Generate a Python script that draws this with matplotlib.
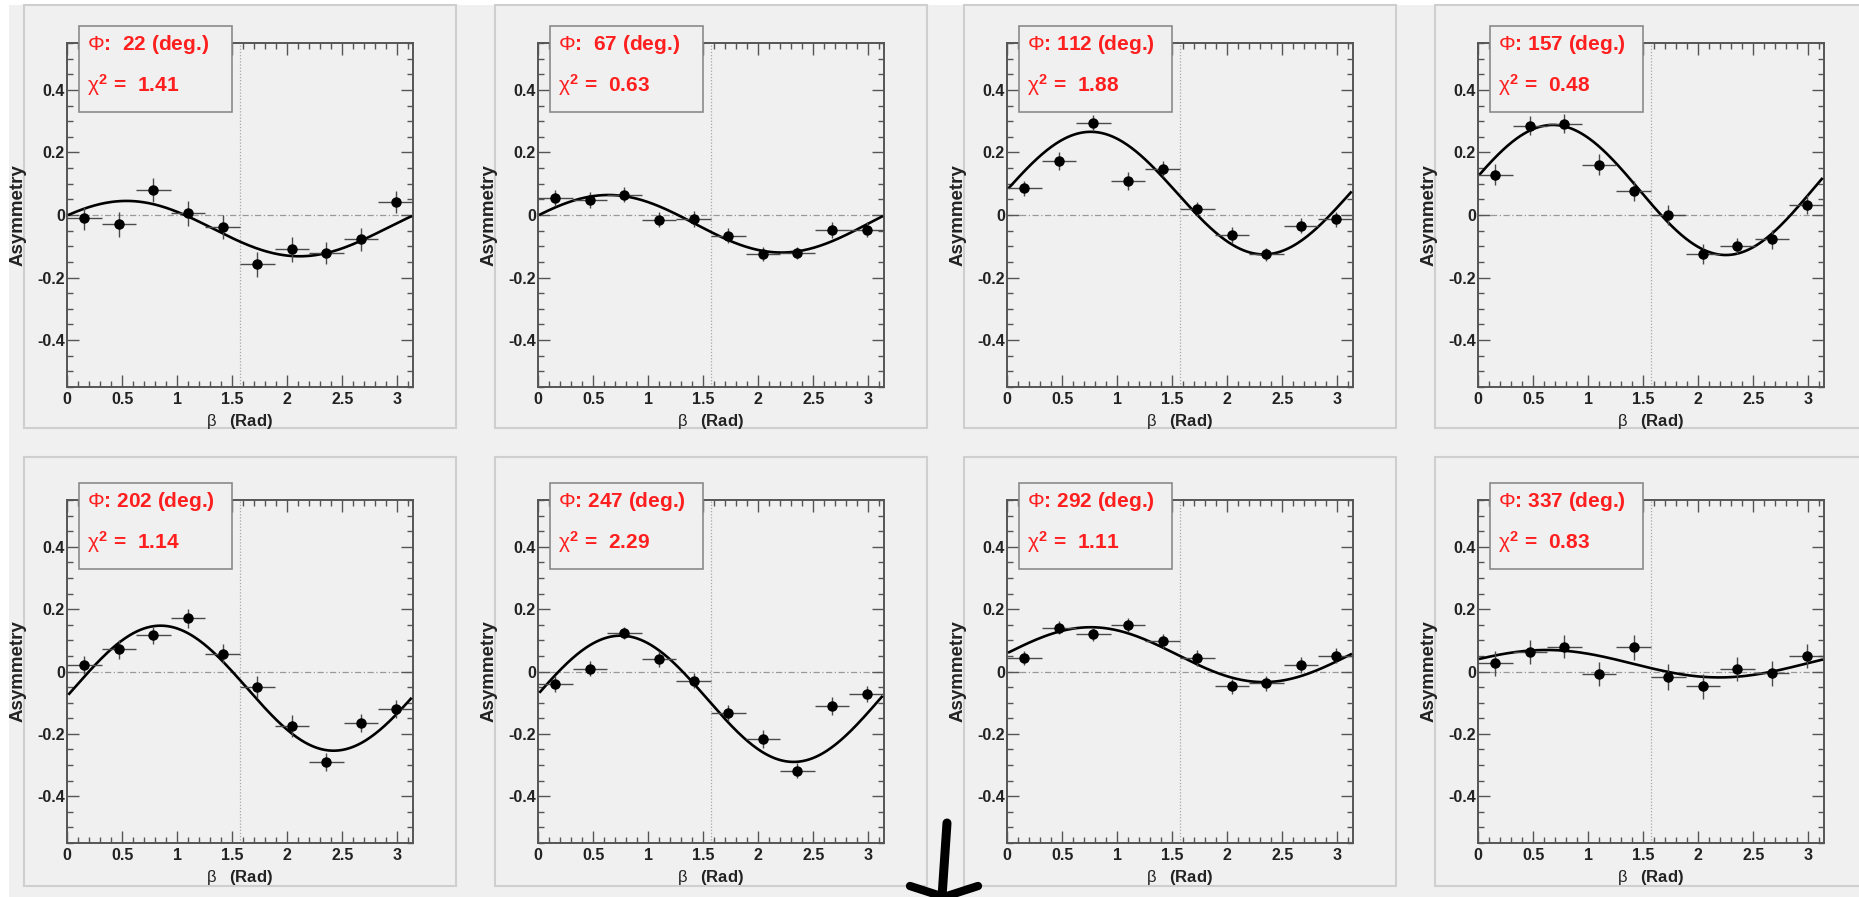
import numpy as np
import matplotlib.pyplot as plt
from matplotlib.patches import Rectangle
from matplotlib.lines import Line2D
from matplotlib.ticker import MultipleLocator, FuncFormatter

plt.rcParams['font.family'] = ['Liberation Sans', 'DejaVu Sans']
plt.rcParams['mathtext.fontset'] = 'custom'
plt.rcParams['mathtext.rm'] = 'Liberation Sans'
plt.rcParams['mathtext.it'] = 'Liberation Sans'
plt.rcParams['mathtext.bf'] = 'Liberation Sans:bold'
plt.rcParams['axes.unicode_minus'] = False

W, H = 1859, 897

# Data
phi_deg = [22, 67, 112, 157, 202, 247, 292, 337]
chi2 = ["1.41", "0.63", "1.88", "0.48", "1.14", "2.29", "1.11", "0.83"]

beta = [0.157, 0.471, 0.785, 1.100, 1.414, 1.728, 2.042, 2.356, 2.670, 2.985]
beta_err = 0.157

asym_022 = [-0.011, -0.029, 0.080, 0.006, -0.039, -0.158, -0.110, -0.121, -0.078, 0.042]
asym_067 = [0.054, 0.048, 0.065, -0.015, -0.013, -0.066, -0.124, -0.121, -0.048, -0.047]
asym_112 = [0.085, 0.172, 0.294, 0.108, 0.148, 0.019, -0.063, -0.126, -0.034, -0.013]
asym_157 = [0.129, 0.285, 0.292, 0.161, 0.076, -0.001, -0.125, -0.099, -0.078, 0.033]
asym_202 = [0.021, 0.071, 0.116, 0.171, 0.057, -0.051, -0.174, -0.290, -0.165, -0.121]
asym_247 = [-0.041, 0.009, 0.123, 0.041, -0.029, -0.133, -0.217, -0.318, -0.110, -0.073]
asym_292 = [0.043, 0.141, 0.119, 0.149, 0.098, 0.043, -0.048, -0.037, 0.021, 0.051]
asym_337 = [0.027, 0.062, 0.080, -0.007, 0.077, -0.018, -0.048, 0.009, -0.005, 0.050]

err_022 = [0.038, 0.040, 0.038, 0.040, 0.038, 0.040, 0.040, 0.036, 0.038, 0.035]
err_067 = [0.025, 0.026, 0.025, 0.024, 0.025, 0.025, 0.022, 0.020, 0.025, 0.024]
err_112 = [0.025, 0.028, 0.025, 0.028, 0.025, 0.022, 0.025, 0.020, 0.024, 0.024]
err_157 = [0.033, 0.030, 0.030, 0.033, 0.032, 0.032, 0.032, 0.025, 0.030, 0.030]
err_202 = [0.030, 0.030, 0.028, 0.030, 0.030, 0.035, 0.035, 0.030, 0.030, 0.028]
err_247 = [0.025, 0.025, 0.020, 0.025, 0.025, 0.025, 0.028, 0.025, 0.028, 0.025]
err_292 = [0.022, 0.022, 0.020, 0.022, 0.022, 0.025, 0.025, 0.024, 0.025, 0.025]
err_337 = [0.040, 0.038, 0.036, 0.038, 0.040, 0.042, 0.040, 0.038, 0.040, 0.038]

# fitted sinusoid: offset + amp * cos(2 (beta - peak))
fit_offset = [-0.0435, -0.028, 0.070, 0.080, -0.0535, -0.0875, 0.054, 0.025]
fit_amp = [0.0885, 0.092, 0.196, 0.208, 0.2005, 0.2025, 0.088, 0.044]
fit_peak = [0.54, 0.64, 0.76, 0.68, 0.85, 0.75, 0.76, 0.62]

asym_all = [asym_022, asym_067, asym_112, asym_157, asym_202, asym_247, asym_292, asym_337]
err_all = [err_022, err_067, err_112, err_157, err_202, err_247, err_292, err_337]

BG = '#f0f0f0'
FRAME = '#555555'
RED = '#ff1f1f'


def fig_rect(x0, y0, x1, y1):
    """ Pixel box (top-left origin) to figure fraction [left, bottom, width, height]. """
    return [x0 / W, 1 - y1 / H, (x1 - x0) / W, (y1 - y0) / H]


def fig_pt(x, y):
    return x / W, 1 - y / H


fig = plt.figure(figsize=(W / 100, H / 100), dpi=100)
fig.patch.set_facecolor(BG)

# white margins at top and left
for r in [fig_rect(0, 0, W, 5), fig_rect(0, 0, 9, H)]:
    fig.patches.append(Rectangle((r[0], r[1]), r[2], r[3], transform=fig.transFigure,
                                 facecolor='white', edgecolor='none', zorder=-2))

pad_left = [24, 495, 964, 1435]
pad_rows = [(5, 428), (457, 886)]
axes_rows = [(43, 387), (500, 843)]

for i in range(8):
    row, col = divmod(i, 4)
    px0 = pad_left[col]
    py0, py1 = pad_rows[row]
    r = fig_rect(px0, py0, px0 + 432, py1)
    fig.patches.append(Rectangle((r[0], r[1]), r[2], r[3], transform=fig.transFigure,
                                 facecolor=BG, edgecolor='#cfcfcf', lw=1.5, zorder=-1))

    ay0, ay1 = axes_rows[row]
    ax = fig.add_axes(fig_rect(px0 + 43, ay0, px0 + 389, ay1))
    ax.set_facecolor(BG)
    ax.set_xlim(0, np.pi)
    ax.set_ylim(-0.55, 0.55)

    ax.axhline(0, color='#999999', lw=0.9, ls=(0, (5, 2, 1, 2)), zorder=1)
    ax.axvline(np.pi / 2, color='#a8a8a8', lw=0.9, ls=(0, (1, 1.5)), zorder=1)

    bb = np.linspace(0.02, np.pi - 0.02, 300)
    ax.plot(bb, fit_offset[i] + fit_amp[i] * np.cos(2 * (bb - fit_peak[i])),
            color='black', lw=1.9, zorder=3)
    ax.errorbar(beta, asym_all[i], xerr=beta_err, yerr=err_all[i], fmt='o',
                color='black', ms=6.5, ecolor='#4a4a4a', elinewidth=1.0,
                capsize=0, zorder=4)

    ax.xaxis.set_major_locator(MultipleLocator(0.5))
    ax.xaxis.set_minor_locator(MultipleLocator(0.1))
    ax.yaxis.set_major_locator(MultipleLocator(0.2))
    ax.yaxis.set_minor_locator(MultipleLocator(0.05))
    fmt = FuncFormatter(lambda v, p: f"{v:g}" if abs(v) > 1e-9 else "0")
    ax.xaxis.set_major_formatter(fmt)
    ax.yaxis.set_major_formatter(fmt)
    ax.tick_params(which='both', direction='in', top=True, right=True,
                   color=FRAME, width=1.0)
    ax.tick_params(which='major', length=8.5)
    ax.tick_params(which='minor', length=4.3)
    ax.tick_params(axis='x', pad=3.5)
    ax.tick_params(axis='y', pad=1.5)
    for lab in ax.get_xticklabels() + ax.get_yticklabels():
        lab.set_fontsize(11.5)
        lab.set_fontweight('bold')
        lab.set_color('#222222')
    for sp in ax.spines.values():
        sp.set_color(FRAME)
        sp.set_linewidth(1.4)

    ax.set_xlabel(r"$\beta$   (Rad)", fontsize=12, fontweight='bold', color='#222222')
    ax.xaxis.set_label_coords(0.5, -0.072)
    ax.set_ylabel("Asymmetry", fontsize=13.5, fontweight='bold', color='#222222')
    ax.yaxis.set_label_coords(-0.118, 0.5)

    # fit info box
    ax.add_patch(Rectangle((0.035, 0.799), 0.442, 0.25, transform=ax.transAxes,
                           facecolor=BG, edgecolor='#8a8a8a', lw=1.2,
                           clip_on=False, zorder=5))
    phi_txt = f"{phi_deg[i]}" if phi_deg[i] >= 100 else f" {phi_deg[i]}"
    ax.text(0.058, 0.98, r"$\Phi$: " + phi_txt + " (deg.)", transform=ax.transAxes,
            color=RED, fontsize=15, fontweight='bold', va='baseline', zorder=6)
    ax.text(0.058, 0.858, r"$\chi^{\mathbf{2}}$ =  " + chi2[i], transform=ax.transAxes,
            color=RED, fontsize=15, fontweight='bold', va='baseline', zorder=6)

# hand-drawn arrow at the bottom
arrow_strokes = [((947, 823), (942, 897), 6.5),
                 ((910, 886), (944, 897), 6.0),
                 ((978, 886), (944, 897), 6.0)]
for (x0, y0), (x1, y1), lw in arrow_strokes:
    p0, p1 = fig_pt(x0, y0), fig_pt(x1, y1)
    fig.lines.append(Line2D([p0[0], p1[0]], [p0[1], p1[1]], transform=fig.transFigure,
                            color='black', lw=lw, solid_capstyle='round', zorder=10))

fig.savefig("out.png", dpi=100, facecolor=fig.get_facecolor())
